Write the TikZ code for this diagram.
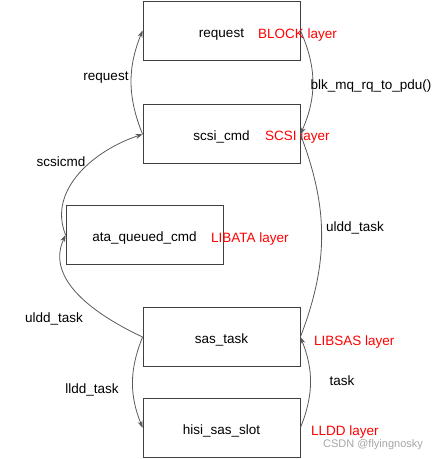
\documentclass[tikz,border=0pt]{standalone}
\usepackage{fontspec}
\setmainfont{Liberation Sans}
\usetikzlibrary{positioning,arrows.meta}

\begin{document}
\begin{tikzpicture}[
    x=1pt, y=1pt,
    font=\fontsize{13.5}{16}\selectfont,
    box/.style={draw=black!75, line width=0.8pt, rectangle, minimum width=157pt, minimum height=59pt, inner sep=0pt, text height=16pt, text depth=3pt},
    layer/.style={text=red, anchor=west, inner sep=0pt, text height=10pt, text depth=3pt},
    lbl/.style={inner sep=0pt, text height=10pt, text depth=3pt},
    link/.style={draw=black!65, line width=0.8pt},
    >={Stealth[length=7pt,width=5pt]}
]
\useasboundingbox (0,0) rectangle (440,-459);
\node[box] (request) at (221.5,-30.5) {request};
\node[box, below=44pt of request] (scsi) {scsi\_cmd};
\node[box] (ata) at (144.5,-235) {ata\_queued\_cmd};
\node[box] (sastask) at (221.5,-337) {sas\_task};
\node[box, below=31pt of sastask] (slot) {hisi\_sas\_slot};

% layer names
\node[layer] (blockl) at (258,-34.5) {BLOCK layer};
\node[layer] (scsil) at (265,-136.5) {SCSI layer};
\node[layer] (libatal) at (211,-238.5) {LIBATA layer};
\node[layer] (libsasl) at (314,-341.5) {LIBSAS layer};
\node[layer] (llddl) at (311,-431.5) {LLDD layer};

% connectors
\draw[link,->] (scsi.west) to[bend left=22] (request.west);
\draw[link,->] (request.east) to[bend left=24] (scsi.east);
\draw[link,->] (ata.west) to[out=112, in=198] (scsi.west);
\draw[link,->] (sastask.west) to[out=155, in=245] (ata.west);
\draw[link] (scsi.east) to[bend left=21] (sastask.east);
\draw[link,->] (sastask.west) to[bend right=22] (slot.west);
\draw[link,->] (slot.east) to[bend right=22] (sastask.east);

% connector labels
\node[lbl] (reqlbl) at (106,-76.5) {request};
\node[lbl] (pdulbl) at (371,-85.5) {blk\_mq\_rq\_to\_pdu()};
\node[lbl] (scsicmdlbl) at (61,-162.5) {scsicmd};
\node[lbl] (ulddl) at (54,-318.5) {uldd\_task};
\node[lbl] (ulddr) at (355,-227.5) {uldd\_task};
\node[lbl] (lldd) at (92,-389.5) {lldd\_task};
\node[lbl] (tasklbl) at (342,-381.5) {task};

\node[lbl, text=black!35, font=\fontsize{11}{13}\selectfont] (mark) at (373,-444) {CSDN @flyingnosky};
\end{tikzpicture}
\end{document}
